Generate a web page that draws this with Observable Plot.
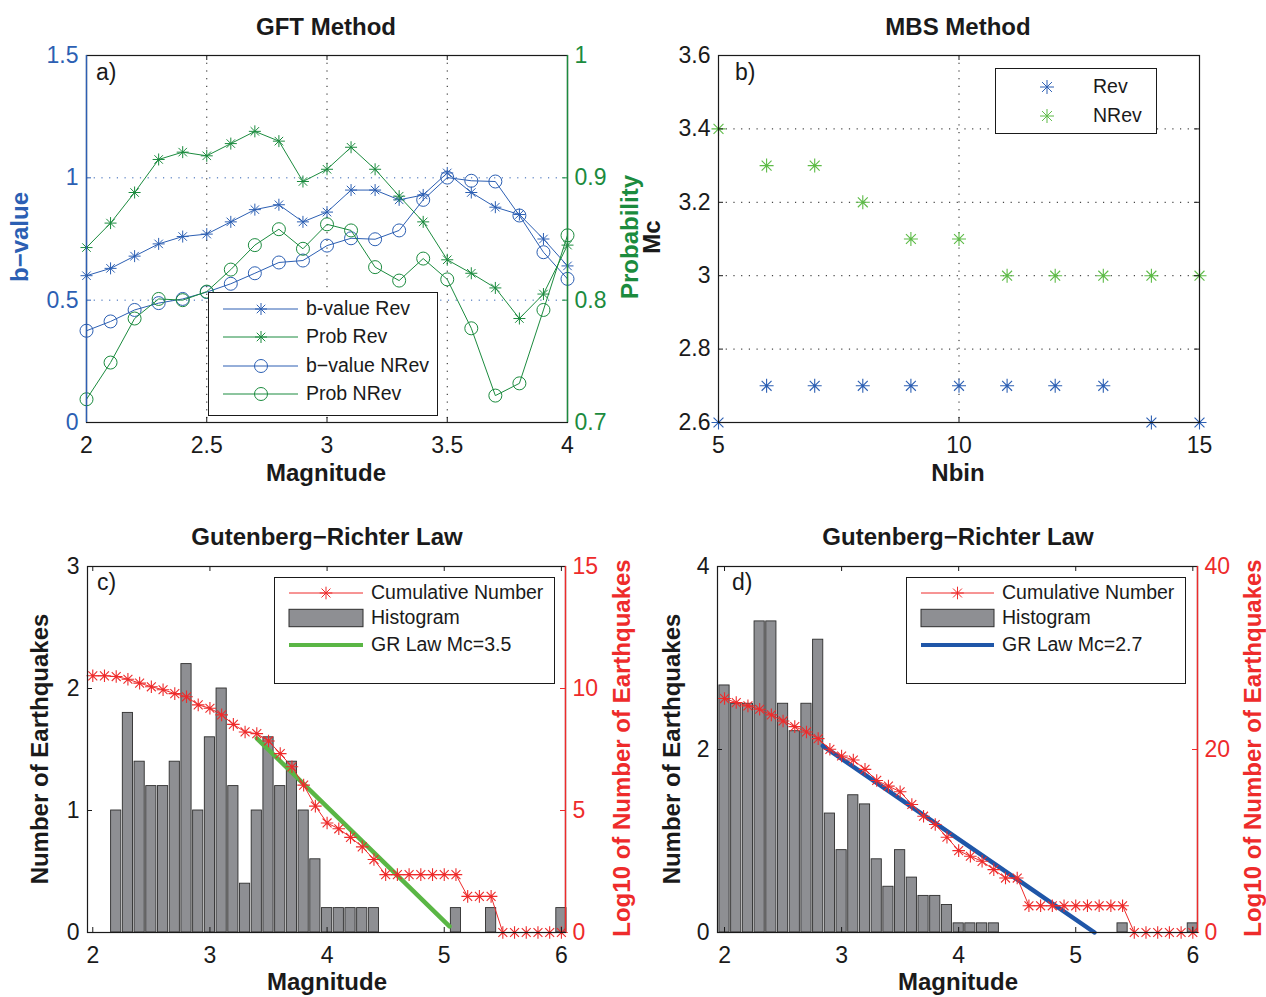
<!DOCTYPE html>
<html><head><meta charset="utf-8">
<script src="https://cdn.jsdelivr.net/npm/d3@7"></script>
<script src="https://cdn.jsdelivr.net/npm/@observablehq/plot@0.6"></script>
<style>
body{margin:0;background:#fff;font-family:"Liberation Sans",Arial,Helvetica,sans-serif;}
#root{position:relative;width:1266px;height:997px;overflow:hidden;background:#fff}
.abs{position:absolute;white-space:nowrap;line-height:1}
.ctr{transform:translate(-50%,-50%)}
.rot{transform:translate(-50%,-50%) rotate(-90deg)}
.title{font-weight:bold;font-size:24px;color:#1a1a1a}
.alab{font-weight:bold;font-size:24px;color:#1a1a1a}
.plab{font-size:23px;color:#1a1a1a}
.leg{position:absolute;background:#fff;border:1.3px solid #1a1a1a;box-sizing:border-box}
.lt{position:absolute;font-size:19.5px;color:#1a1a1a;transform:translateY(-50%);line-height:1;white-space:nowrap}
</style></head><body><div id="root"></div><script>
// ---------- data ----------
const magA = [2.0,2.1,2.2,2.3,2.4,2.5,2.6,2.7,2.8,2.9,3.0,3.1,3.2,3.3,3.4,3.5,3.6,3.7,3.8,3.9,4.0];
const bRev = [0.60,0.63,0.68,0.73,0.76,0.77,0.82,0.87,0.89,0.82,0.86,0.95,0.95,0.91,0.93,1.02,0.94,0.88,0.85,0.75,0.64];
const probRev = [0.843,0.863,0.888,0.915,0.921,0.918,0.928,0.938,0.930,0.897,0.907,0.925,0.907,0.885,0.864,0.833,0.822,0.810,0.785,0.805,0.845];
const bNRev = [0.375,0.413,0.460,0.488,0.505,0.533,0.567,0.610,0.654,0.662,0.723,0.753,0.749,0.785,0.910,1.001,0.988,0.985,0.846,0.696,0.587];
const probNRev = [0.719,0.749,0.785,0.801,0.800,0.807,0.825,0.845,0.858,0.842,0.862,0.857,0.827,0.816,0.834,0.817,0.777,0.722,0.732,0.792,0.853];

const nbin = [5,6,7,8,9,10,11,12,13,14,15];
const mcRev = [2.6,2.7,2.7,2.7,2.7,2.7,2.7,2.7,2.7,2.6,2.6];
const mcNRev = [3.4,3.3,3.3,3.2,3.1,3.1,3.0,3.0,3.0,3.0,3.0];

const histMagC = [2.2,2.3,2.4,2.5,2.6,2.7,2.8,2.9,3.0,3.1,3.2,3.3,3.4,3.5,3.6,3.7,3.8,3.9,4.0,4.1,4.2,4.3,4.4,5.1,5.4,6.0];
const histC = [1.0,1.8,1.4,1.2,1.2,1.4,2.2,1.0,1.6,2.0,1.2,0.4,1.0,1.6,1.2,1.4,1.0,0.6,0.2,0.2,0.2,0.2,0.2,0.2,0.2,0.2];
const cumMag = [2.0,2.1,2.2,2.3,2.4,2.5,2.6,2.7,2.8,2.9,3.0,3.1,3.2,3.3,3.4,3.5,3.6,3.7,3.8,3.9,4.0,4.1,4.2,4.3,4.4,4.5,4.6,4.7,4.8,4.9,5.0,5.1,5.2,5.3,5.4,5.5,5.6,5.7,5.8,5.9,6.0];
const cumC = [10.52,10.52,10.49,10.38,10.22,10.07,9.95,9.79,9.66,9.33,9.19,8.92,8.53,8.22,8.15,7.85,7.33,6.79,6.04,5.18,4.49,4.25,3.90,3.51,2.99,2.37,2.37,2.37,2.37,2.37,2.37,2.37,1.48,1.48,1.48,0,0,0,0,0,0];
const grMagC = [3.40,5.045];
const grC = [7.96,0.25];

const histMagD = [2.0,2.1,2.2,2.3,2.4,2.5,2.6,2.7,2.8,2.9,3.0,3.1,3.2,3.3,3.4,3.5,3.6,3.7,3.8,3.9,4.0,4.1,4.2,4.3,5.4,6.0];
const histD = [2.7,2.5,2.5,3.4,3.4,2.5,2.2,2.5,3.2,1.3,0.9,1.5,1.4,0.8,0.5,0.9,0.6,0.4,0.4,0.3,0.1,0.1,0.1,0.1,0.1,0.1];
const cumD = [25.57,25.13,24.77,24.40,23.78,23.12,22.50,21.92,21.19,20.02,19.29,18.85,17.83,16.62,16.00,15.38,13.99,12.71,11.80,10.41,8.95,8.33,7.78,6.87,5.95,5.95,2.92,2.92,2.92,2.92,2.92,2.92,2.92,2.92,2.92,0,0,0,0,0,0];
const grMagD = [2.84,5.16];
const grD = [20.4,0];

// ticks
const aXTicks=[2,2.5,3,3.5,4], aYTicks=[0,0.5,1,1.5], aY2Ticks=[0.7,0.8,0.9,1];
const bXTicks=[5,10,15], bYTicks=[2.6,2.8,3,3.2,3.4,3.6];
const cXTicks=[2,3,4,5,6], cYTicks=[0,1,2,3], cY2Ticks=[0,5,10,15];
const dXTicks=[2,3,4,5,6], dYTicks=[0,2,4], dY2Ticks=[0,20,40];

// ---------- styles ----------
const FONT='"Liberation Sans", Arial, Helvetica, sans-serif';
const INK="#1a1a1a";
const BLUE="#2c5fb3", GREEN="#1b8b3e", LGREEN="#5dbb47", RED="#ee2b2b", GRGREEN="#5ab645", GRBLUE="#1f56a8";
const BARFILL="#8e8f93", BAREDGE="#2e2e2e";
const DOT="1.2,6.5";
const BARW=0.087;
const ast8={draw(ctx,size){const r=Math.sqrt(size/Math.PI),k=r*Math.SQRT1_2;
  ctx.moveTo(-r,0);ctx.lineTo(r,0);ctx.moveTo(0,-r);ctx.lineTo(0,r);
  ctx.moveTo(-k,-k);ctx.lineTo(k,k);ctx.moveTo(-k,k);ctx.lineTo(k,-k);}};
const root=document.getElementById('root');
const style={fontFamily:FONT,fontSize:"23px",overflow:"visible",background:"transparent",color:INK};
const num=v=>String(+(+v).toFixed(3));

function inTicks(fw,fh,{xb=[],xt=[],yl=[],yr=[],cx=INK,cl=INK,cr=INK}){
  const L=5;
  return [
    Plot.tickX(xb,{x:d=>d,insetTop:fh-L,stroke:cx}),
    Plot.tickX(xt,{x:d=>d,insetBottom:fh-L,stroke:cx}),
    Plot.tickY(yl,{y:d=>d,insetRight:fw-L,stroke:cl}),
    Plot.tickY(yr,{y:d=>d,insetLeft:fw-L,stroke:cr})
  ];
}
function put(svg,left,top){const d=document.createElement('div');d.style.position='absolute';d.style.left=left+'px';d.style.top=top+'px';d.appendChild(svg);root.appendChild(d);}
function txt(text,x,y,cls,color,rot){const d=document.createElement('div');d.className='abs '+cls+(rot?' rot':' ctr');d.textContent=text;d.style.left=x+'px';d.style.top=y+'px';if(color)d.style.color=color;root.appendChild(d);}
function corner(text,x,y){const d=document.createElement('div');d.className='abs plab';d.textContent=text;d.style.left=x+'px';d.style.top=y+'px';root.appendChild(d);}

// ---------- panel a ----------
{
  const W=633,H=498,mt=55,ml=86,mr=66,mb=76,fw=W-ml-mr,fh=H-mt-mb;
  const xD=[2,4], yD=[0,1.5], y2D=[0.7,1];
  const toL=p=>(p-y2D[0])/(y2D[1]-y2D[0])*(yD[1]-yD[0])+yD[0];
  const fromL=v=>(v-yD[0])/(yD[1]-yD[0])*(y2D[1]-y2D[0])+y2D[0];
  const rows=magA.map((m,i)=>({m,bRev:bRev[i],bNRev:bNRev[i],pRev:toL(probRev[i]),pNRev:toL(probNRev[i])}));
  const svg=Plot.plot({width:W,height:H,marginTop:mt,marginLeft:ml,marginRight:mr,marginBottom:mb,
    x:{domain:xD},y:{domain:yD},style,
    marks:[
      Plot.ruleY([0.5,1],{stroke:BLUE,strokeDasharray:DOT}),
      Plot.ruleX([2.5,3,3.5],{stroke:INK,strokeDasharray:DOT}),
      Plot.line(rows,{x:"m",y:"bRev",stroke:BLUE,strokeWidth:1}),
      Plot.dot(rows,{x:"m",y:"bRev",symbol:ast8,r:6,stroke:BLUE,fill:"none",strokeWidth:1}),
      Plot.line(rows,{x:"m",y:"bNRev",stroke:BLUE,strokeWidth:1}),
      Plot.dot(rows,{x:"m",y:"bNRev",r:6.5,stroke:BLUE,fill:"none",strokeWidth:1}),
      Plot.line(rows,{x:"m",y:"pRev",stroke:GREEN,strokeWidth:1}),
      Plot.dot(rows,{x:"m",y:"pRev",symbol:ast8,r:6,stroke:GREEN,fill:"none",strokeWidth:1}),
      Plot.line(rows,{x:"m",y:"pNRev",stroke:GREEN,strokeWidth:1}),
      Plot.dot(rows,{x:"m",y:"pNRev",r:6.5,stroke:GREEN,fill:"none",strokeWidth:1}),
      Plot.frame({stroke:INK,strokeWidth:1.2}),
      Plot.ruleX([xD[0]],{stroke:BLUE,strokeWidth:1.4}),
      Plot.ruleX([xD[1]],{stroke:GREEN,strokeWidth:1.4}),
      ...inTicks(fw,fh,{xb:[2.5,3,3.5],xt:[2.5,3,3.5],yl:[0.5,1],yr:[0.8,0.9].map(toL),cl:BLUE,cr:GREEN}),
      Plot.axisX(aXTicks,{tickSize:0,tickPadding:14,label:null,tickFormat:num,color:INK}),
      Plot.axisY(aYTicks,{anchor:"left",tickSize:0,tickPadding:8,label:null,tickFormat:num,color:BLUE}),
      Plot.axisY(aY2Ticks.map(toL),{anchor:"right",tickSize:0,tickPadding:7,label:null,tickFormat:d=>num(fromL(d)),color:GREEN})
    ]});
  put(svg,0,0);
}
// ---------- panel b ----------
{
  const W=633,H=498,mt=55,ml=85,mr=67,mb=76,fw=W-ml-mr,fh=H-mt-mb;
  const xD=[5,15], yD=[2.6,3.6];
  const rows=nbin.map((n,i)=>({n,rev:mcRev[i],nrev:mcNRev[i]}));
  const svg=Plot.plot({width:W,height:H,marginTop:mt,marginLeft:ml,marginRight:mr,marginBottom:mb,
    x:{domain:xD},y:{domain:yD},style,
    marks:[
      Plot.ruleY([2.8,3,3.2,3.4],{stroke:INK,strokeDasharray:DOT}),
      Plot.ruleX([10],{stroke:INK,strokeDasharray:DOT}),
      Plot.dot(rows,{x:"n",y:"rev",symbol:ast8,r:7,stroke:BLUE,fill:"none",strokeWidth:1.1}),
      Plot.dot(rows,{x:"n",y:"nrev",symbol:ast8,r:7,stroke:LGREEN,fill:"none",strokeWidth:1.1}),
      Plot.frame({stroke:INK,strokeWidth:1.2}),
      ...inTicks(fw,fh,{xb:[10],xt:[10],yl:[2.8,3,3.2,3.4],yr:[2.8,3,3.2,3.4]}),
      Plot.axisX(bXTicks,{tickSize:0,tickPadding:14,label:null,tickFormat:num,color:INK}),
      Plot.axisY(bYTicks,{anchor:"left",tickSize:0,tickPadding:8,label:null,tickFormat:num,color:INK})
    ]});
  put(svg,633,0);
}
// ---------- panel c ----------
{
  const W=633,H=499,mt=68,ml=87,mr=68,mb=65,fw=W-ml-mr,fh=H-mt-mb;
  const xD=[1.955,6.035], yD=[0,3], y2D=[0,15];
  const toL=v=>v*(yD[1]/y2D[1]), fromL=v=>v*(y2D[1]/yD[1]);
  const bars=histMagC.map((m,i)=>({m,v:histC[i]}));
  const cum=cumMag.map((m,i)=>({m,v:toL(cumC[i])}));
  const gr=grMagC.map((m,i)=>({m,v:toL(grC[i])}));
  const svg=Plot.plot({width:W,height:H,marginTop:mt,marginLeft:ml,marginRight:mr,marginBottom:mb,
    x:{domain:xD},y:{domain:yD},style,
    marks:[
      Plot.rectY(bars,{x1:d=>d.m-BARW/2,x2:d=>d.m+BARW/2,y:"v",fill:BARFILL,stroke:BAREDGE,strokeWidth:0.9}),
      Plot.line(gr,{x:"m",y:"v",stroke:GRGREEN,strokeWidth:4.5}),
      Plot.line(cum,{x:"m",y:"v",stroke:RED,strokeWidth:1}),
      Plot.dot(cum,{x:"m",y:"v",symbol:ast8,r:6.3,stroke:RED,fill:"none",strokeWidth:1.1}),
      Plot.frame({stroke:INK,strokeWidth:1.2}),
      Plot.ruleX([xD[1]],{stroke:RED,strokeWidth:1.4}),
      ...inTicks(fw,fh,{xb:cXTicks,xt:cXTicks,yl:[1,2],yr:[5,10].map(toL),cr:RED}),
      Plot.axisX(cXTicks,{tickSize:0,tickPadding:14,label:null,tickFormat:num,color:INK}),
      Plot.axisY(cYTicks,{anchor:"left",tickSize:0,tickPadding:8,label:null,tickFormat:num,color:INK}),
      Plot.axisY(cY2Ticks.map(toL),{anchor:"right",tickSize:0,tickPadding:7,label:null,tickFormat:d=>num(fromL(d)),color:RED})
    ]});
  put(svg,0,498);
}
// ---------- panel d ----------
{
  const W=633,H=499,mt=68,ml=84,mr=69,mb=65,fw=W-ml-mr,fh=H-mt-mb;
  const xD=[1.94,6.04], yD=[0,4], y2D=[0,40];
  const toL=v=>v*(yD[1]/y2D[1]), fromL=v=>v*(y2D[1]/yD[1]);
  const bars=histMagD.map((m,i)=>({m,v:histD[i]}));
  const cum=cumMag.map((m,i)=>({m,v:toL(cumD[i])}));
  const gr=grMagD.map((m,i)=>({m,v:toL(grD[i])}));
  const svg=Plot.plot({width:W,height:H,marginTop:mt,marginLeft:ml,marginRight:mr,marginBottom:mb,
    x:{domain:xD},y:{domain:yD},style,
    marks:[
      Plot.rectY(bars,{x1:d=>d.m-BARW/2,x2:d=>d.m+BARW/2,y:"v",fill:BARFILL,stroke:BAREDGE,strokeWidth:0.9}),
      Plot.line(gr,{x:"m",y:"v",stroke:GRBLUE,strokeWidth:4.5}),
      Plot.line(cum,{x:"m",y:"v",stroke:RED,strokeWidth:1}),
      Plot.dot(cum,{x:"m",y:"v",symbol:ast8,r:6.3,stroke:RED,fill:"none",strokeWidth:1.1}),
      Plot.frame({stroke:INK,strokeWidth:1.2}),
      Plot.ruleX([xD[1]],{stroke:RED,strokeWidth:1.4}),
      ...inTicks(fw,fh,{xb:dXTicks,xt:dXTicks,yl:[2],yr:[20].map(toL),cr:RED}),
      Plot.axisX(dXTicks,{tickSize:0,tickPadding:14,label:null,tickFormat:num,color:INK}),
      Plot.axisY(dYTicks,{anchor:"left",tickSize:0,tickPadding:8,label:null,tickFormat:num,color:INK}),
      Plot.axisY(dY2Ticks.map(toL),{anchor:"right",tickSize:0,tickPadding:7,label:null,tickFormat:d=>num(fromL(d)),color:RED})
    ]});
  put(svg,633,498);
}

// ---------- titles & labels ----------
txt("GFT Method",326,27,"title");
txt("MBS Method",958,27,"title");
txt("Gutenberg\u2212Richter Law",327,537,"title");
txt("Gutenberg\u2212Richter Law",958,537,"title");
txt("Magnitude",326,473,"alab");
txt("Nbin",958,473,"alab");
txt("Magnitude",327,982,"alab");
txt("Magnitude",958,982,"alab");
txt("b\u2212value",20,237,"alab",BLUE,true);
txt("Probability",630,237,"alab",GREEN,true);
txt("Mc",652,237,"alab",INK,true);
txt("Number of Earthquakes",40,749,"alab",INK,true);
txt("Number of Earthquakes",672,749,"alab",INK,true);
txt("Log10 of Number of Earthquakes",622,748,"alab",RED,true);
txt("Log10 of Number of Earthquakes",1253,748,"alab",RED,true);
corner("a)",96,61);
corner("b)",735,61);
corner("c)",97,571);
corner("d)",732,571);

// ---------- legends ----------
const legSvgParts=[];
const legTexts=[];
function astPath(cx,cy,r){const k=r*Math.SQRT1_2;return `M${cx-r},${cy}H${cx+r}M${cx},${cy-r}V${cy+r}M${cx-k},${cy-k}L${cx+k},${cy+k}M${cx-k},${cy+k}L${cx+k},${cy-k}`;}
function legend(bx,by,bw,bh,items){
  const d=document.createElement('div');d.className='leg';
  Object.assign(d.style,{left:bx+'px',top:by+'px',width:bw+'px',height:bh+'px'});
  root.appendChild(d);
  for(const it of items){
    if(it.line) legSvgParts.push(`<line x1="${it.x1}" x2="${it.x2}" y1="${it.y}" y2="${it.y}" stroke="${it.color}" stroke-width="${it.lw||1}"/>`);
    if(it.mk==="ast") legSvgParts.push(`<path d="${astPath(it.mx,it.y,it.r||6)}" stroke="${it.color}" fill="none"/>`);
    if(it.mk==="circle") legSvgParts.push(`<circle cx="${it.mx}" cy="${it.y}" r="6.5" stroke="${it.color}" fill="none"/>`);
    if(it.mk==="rect") legSvgParts.push(`<rect x="${it.x1}" y="${it.y-8.7}" width="${it.x2-it.x1}" height="17.4" fill="${BARFILL}" stroke="${BAREDGE}"/>`);
    const t=document.createElement('div');t.className='lt';t.textContent=it.label;t.style.left=it.tx+'px';t.style.top=it.y+'px';
    legTexts.push(t);
  }
}
legend(208,292,230,124,[
  {label:"b-value Rev",y:309,line:true,x1:223,x2:298,mk:"ast",mx:261,tx:306,color:BLUE},
  {label:"Prob Rev",y:337,line:true,x1:223,x2:298,mk:"ast",mx:261,tx:306,color:GREEN},
  {label:"b\u2212value NRev",y:366,line:true,x1:223,x2:298,mk:"circle",mx:261,tx:306,color:BLUE},
  {label:"Prob NRev",y:394,line:true,x1:223,x2:298,mk:"circle",mx:261,tx:306,color:GREEN}
]);
legend(995,68,162,66,[
  {label:"Rev",y:87,mk:"ast",mx:1047,r:7,tx:1093,color:BLUE},
  {label:"NRev",y:116,mk:"ast",mx:1047,r:7,tx:1093,color:LGREEN}
]);
legend(274,577,281,107,[
  {label:"Cumulative Number",y:593,line:true,x1:289,x2:363,mk:"ast",mx:326,r:6.3,tx:371,color:RED},
  {label:"Histogram",y:618,mk:"rect",x1:289,x2:363,tx:371,color:BARFILL},
  {label:"GR Law Mc=3.5",y:645,line:true,lw:4,x1:289,x2:363,tx:371,color:GRGREEN}
]);
legend(906,577,280,107,[
  {label:"Cumulative Number",y:593,line:true,x1:921,x2:994,mk:"ast",mx:957.5,r:6.3,tx:1002,color:RED},
  {label:"Histogram",y:618,mk:"rect",x1:921,x2:994,tx:1002,color:BARFILL},
  {label:"GR Law Mc=2.7",y:645,line:true,lw:4,x1:921,x2:994,tx:1002,color:GRBLUE}
]);
const ls=document.createElement('div');
ls.innerHTML=`<svg width="1266" height="997" style="position:absolute;left:0;top:0;pointer-events:none">${legSvgParts.join("")}</svg>`;
root.appendChild(ls.firstChild);
legTexts.forEach(t=>root.appendChild(t));
</script></body></html>
